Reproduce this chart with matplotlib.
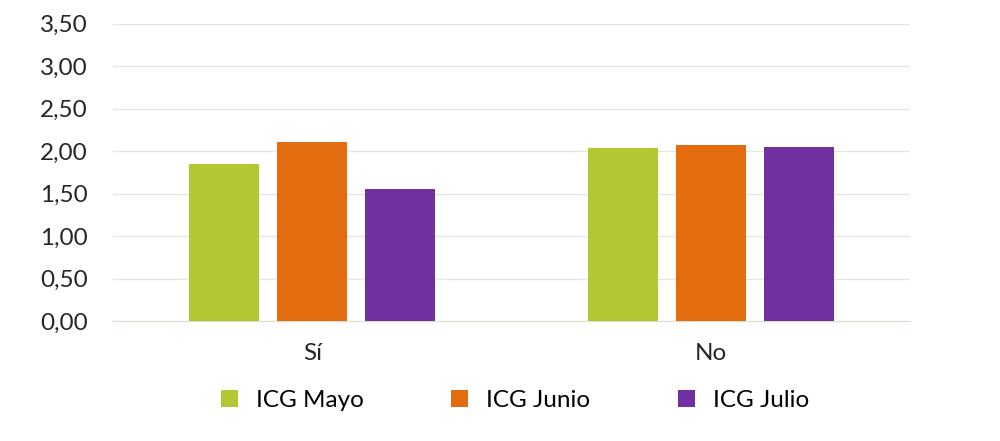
import matplotlib
matplotlib.use("Agg")
import matplotlib.pyplot as plt
import numpy as np

categories = ["Sí", "No"]
series_names = ["ICG Mayo", "ICG Junio", "ICG Julio"]
mayo = [1.85, 2.04]
junio = [2.11, 2.07]
julio = [1.56, 2.05]
yticks = [0, 0.5, 1.0, 1.5, 2.0, 2.5, 3.0, 3.5]
colors = ["#b3c733", "#e36c0e", "#7030a0"]

plt.rcParams['font.family'] = ['Lato', 'DejaVu Sans']

fig = plt.figure(figsize=(10, 4.41), dpi=100)
ax = fig.add_axes([0.113, 0.272, 0.797, 0.674])

x = np.arange(len(categories))
width = 0.176
offsets = [-0.221, 0, 0.221]
for vals, off, c, name in zip([mayo, junio, julio], offsets, colors, series_names):
    ax.bar(x + off, vals, width, color=c, label=name, zorder=3)

ax.set_xlim(-0.5, 1.5)
ax.set_ylim(0, 3.5)
ax.set_yticks(yticks)
ax.set_yticklabels([f"{v:.2f}".replace(".", ",") for v in yticks], fontsize=17.5, color="#262626")
ax.set_xticks(x)
ax.set_xticklabels(categories, fontsize=17.5, color="#262626")
ax.grid(axis="y", color="#e6e6dc", linewidth=1, zorder=0)
for s in ["top", "right", "left"]:
    ax.spines[s].set_visible(False)
ax.spines["bottom"].set_color("#dcdcd2")
ax.tick_params(axis="y", length=0, pad=18)
ax.tick_params(axis="x", length=0, pad=16)

fig.legend(loc="center", bbox_to_anchor=(0.515, 0.092), ncol=3, frameon=False,
           fontsize=17.5, handlelength=0.7, handleheight=0.7, columnspacing=3.6,
           handletextpad=0.75)

fig.savefig("out.png", dpi=100)
